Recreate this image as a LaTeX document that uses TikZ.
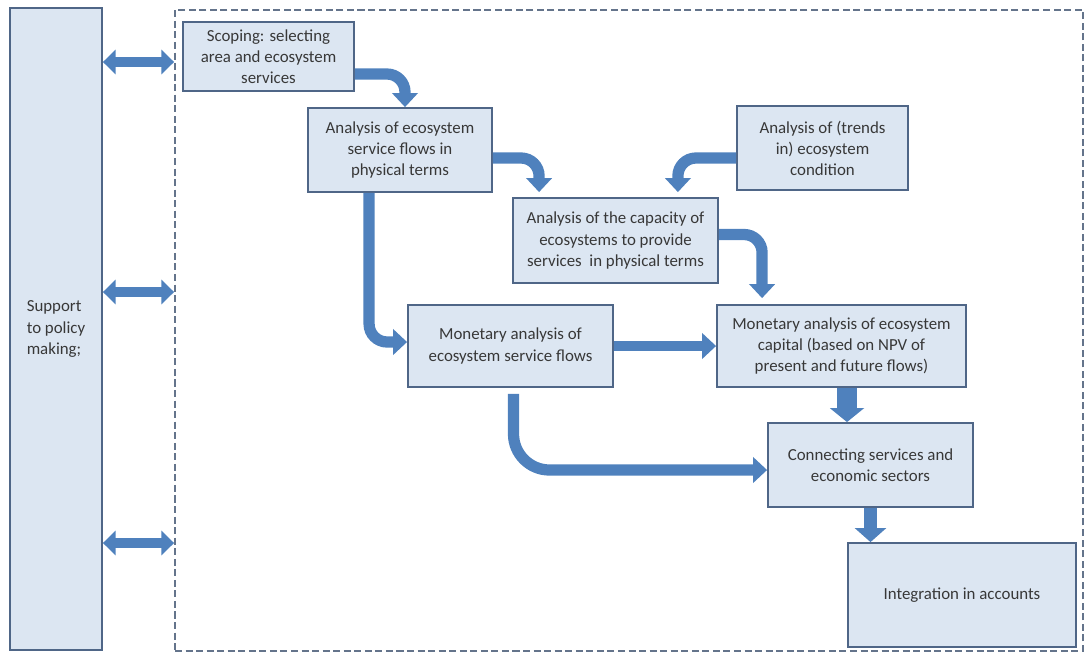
\documentclass[tikz,border=0pt]{standalone}
\usepackage{fontspec}
\setmainfont{Carlito}
\usetikzlibrary{arrows.meta,calc}

\definecolor{boxfill}{RGB}{220,230,242}
\definecolor{boxline}{RGB}{79,102,135}
\definecolor{arrowblue}{RGB}{79,129,189}
\definecolor{frameline}{RGB}{100,116,139}

\tikzset{
  stepbox/.style={draw=boxline, fill=boxfill, line width=1.3pt, align=center,
    inner sep=2pt, text=black!78, font=\fontsize{12}{15}\selectfont},
  flow/.style={draw=arrowblue, line width=8pt, rounded corners=0.45cm,
    -{Triangle[width=18pt,length=10pt]}},
  dflow/.style={draw=arrowblue, line width=7pt,
    {Triangle[width=17pt,length=9pt]}-{Triangle[width=17pt,length=9pt]}},
}

\begin{document}
\begin{tikzpicture}[x=0.025cm, y=-0.025cm]
      \useasboundingbox (0,0) rectangle (1085,654);

      \def \Boxes {
        scoping/268.5/56.5/171/69/Scoping: selecting\\area and ecosystem\\services,
        flows/400/150/184/84/Analysis of ecosystem\\service flows in\\physical terms,
        trends/822.5/148/171/84/Analysis of (trends\\in) ecosystem\\condition,
        capacity/615.5/240.5/205/85/Analysis of the capacity of\\ecosystems to provide\\services\ \ in physical terms,
        monflows/510.5/346/205/82/Monetary analysis of\\ecosystem service flows,
        moncap/841.5/346/249/82/Monetary analysis of ecosystem\\capital (based on NPV of\\present and future flows),
        connect/870.5/465/205/84/Connecting services and\\economic sectors,
        integr/962/595/228/104/Integration in accounts}

      % frame and policy column
      \node[draw=frameline, line width=1.3pt, dash pattern=on 5pt off 2.5pt,
        minimum width=908*0.025cm, minimum height=641*0.025cm] (frame) at (629,330.5) {};
      \node[stepbox, align=left, minimum width=92*0.025cm, minimum height=642*0.025cm]
        (support) at (56,329) {Support\\to policy\\making;};

      \foreach \id / \x / \y / \w / \h / \txt in \Boxes {
        \node[stepbox, minimum width=\w*0.025cm, minimum height=\h*0.025cm] (\id) at (\x, \y) {\txt};
      }

      % two-way links to policy making
      \foreach \y in {62,292,543} {
        \draw[dflow] (support.east |- 0,\y) -- (frame.west |- 0,\y);
      }

      % bent connectors
      \draw[flow] ($(scoping.east)+(0,17.5)$) -| ($(flows.north)+(5,0)$);
      \draw[flow] ($(flows.east)+(0,8)$) -| ($(capacity.north west)+(27,-5)$);
      \draw[flow] ($(trends.west)+(0,10)$) -| ($(capacity.north east)+(-41,-5)$);
      \draw[flow] ($(capacity.east)+(0,-6)$) -| ($(moncap.north west)+(46,-6)$);
      \draw[flow] ($(flows.south west)+(62,0)$) |- ($(monflows.west)+(0,-4)$);
      \draw[flow, rounded corners=0.9cm] ($(monflows.south)+(3,6)$) |- ($(connect.west)+(0,5)$);

      % straight connectors
      \draw[flow, line width=7pt] (monflows.east) -- (moncap.west);
      \coordinate (m2c) at ($(moncap.south)+(5.5,0)$);
      \draw[flow, line width=14pt, -{Triangle[width=24pt,length=10pt]}] (m2c) -- (m2c |- connect.north);
      \draw[flow, line width=9pt, -{Triangle[width=22pt,length=10pt]}] (connect.south) -- (connect.south |- integr.north);
    \end{tikzpicture}
\end{document}
